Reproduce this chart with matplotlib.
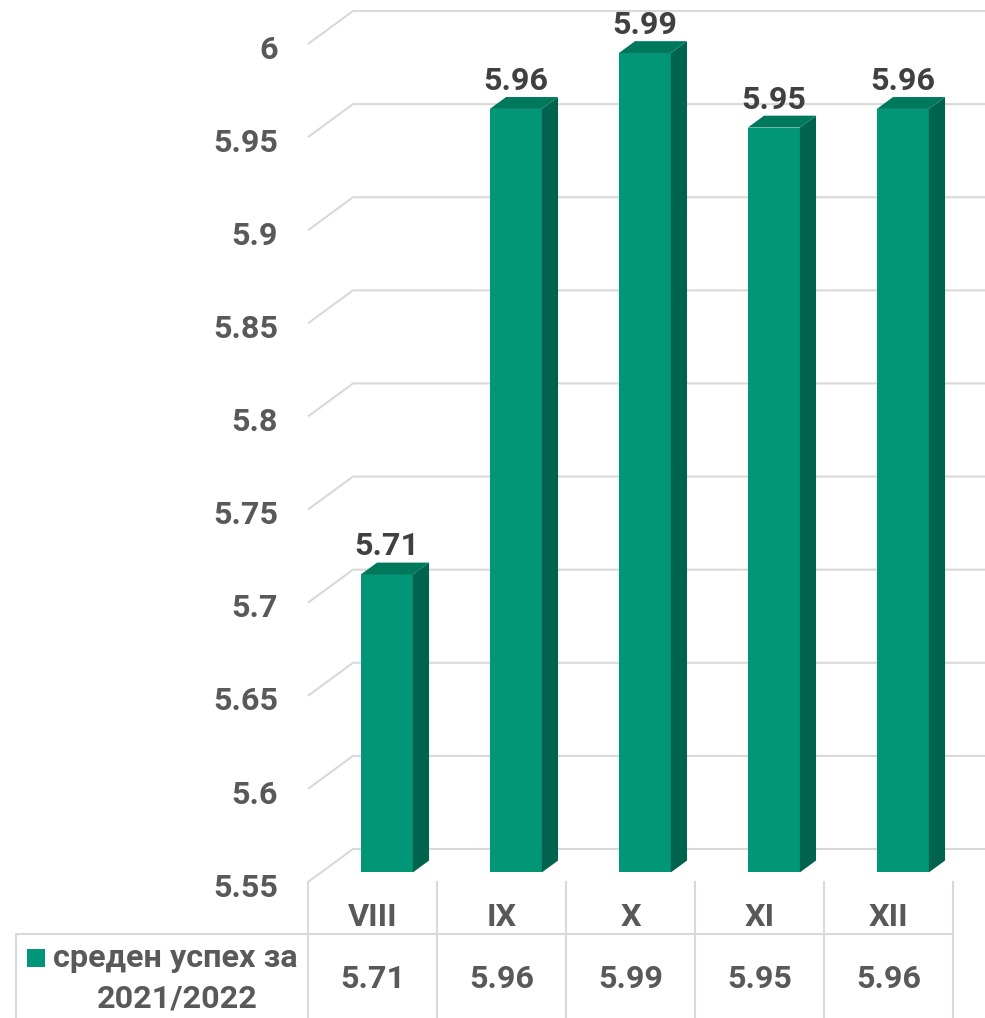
import numpy as np
import matplotlib
matplotlib.use("Agg")
import matplotlib.pyplot as plt
from matplotlib.patches import Polygon, Rectangle

## data
months = ["VIII", "IX", "X", "XI", "XII"]
avg_grade = [5.71, 5.96, 5.99, 5.95, 5.96]
series_name = ["среден успех за", "2021/2022"]
yticks = [5.55, 5.6, 5.65, 5.7, 5.75, 5.8, 5.85, 5.9, 5.95, 6.0]
ymin = 5.55

## colours
c_front = "#009677"
c_top = "#00785C"
c_side = "#00634D"
c_grid = "#D9D9D9"
c_txt = "#595959"
c_lab = "#404040"

plt.rcParams["font.family"] = ["Roboto", "DejaVu Sans"]
plt.rcParams["font.weight"] = "bold"
fs = 23.3

fig = plt.figure(figsize=(9.85, 10.18), dpi=100)
ax = fig.add_axes([0, 0, 1, 1])
ax.set_xlim(-2.8876, 4.748)
ax.set_ylim(5.47697, 6.02363)
ax.axis("off")

# oblique depth of the floor, in data units
DX = 0.3488
DY = 0.01772
f0 = 0.29      # where the bar front sits in depth
fd = 0.36      # bar depth
bw = 0.403     # bar width
pxv = 1862.2   # pixels per value unit (for small offsets)

# gridlines: side wall diagonal + back wall horizontal
for t in yticks:
    ax.plot([-0.5, -0.5 + DX, 4.748], [t, t + DY, t + DY], color=c_grid, lw=1.5,
            zorder=1, solid_capstyle="butt")
    ax.text(-0.7326, t - 14.7 / pxv, "{:g}".format(t), ha="right", va="baseline",
            fontsize=fs, color=c_txt, fontweight="bold")

# bars
x = np.arange(len(months))
left = x - bw / 2 + f0 * DX + 0.01
bottom = ymin + f0 * DY
heights = np.array(avg_grade) - ymin
ax.bar(left, heights, width=bw, bottom=bottom, align="edge", color=c_front,
       edgecolor="none", zorder=3)
for xl, v in zip(left, avg_grade):
    top = v + f0 * DY
    xr = xl + bw
    dx, dy = fd * DX, fd * DY
    side = Polygon([[xr, bottom], [xr + dx, bottom + dy], [xr + dx, top + dy], [xr, top]],
                   closed=True, facecolor=c_side, edgecolor="none", zorder=3)
    lid = Polygon([[xl, top], [xr, top], [xr + dx, top + dy], [xl + dx, top + dy]],
                  closed=True, facecolor=c_top, edgecolor="none", zorder=3)
    ax.add_patch(side)
    ax.add_patch(lid)
    ax.text(xl + bw / 2, top + 19 / pxv, "{:.2f}".format(v), ha="center", va="baseline",
            fontsize=fs, color=c_lab, fontweight="bold", zorder=4)

# data table
y_row = 5.55 - 52 / pxv
y_bot = 5.47697
for k in range(len(months) + 1):
    ax.plot([-0.5 + k, -0.5 + k], [ymin, y_bot], color=c_grid, lw=1.5, zorder=1)
ax.plot([-2.7636, len(months) - 0.5], [y_row, y_row], color=c_grid, lw=1.5, zorder=1)
ax.plot([-2.7636, -2.7636], [y_row, y_bot], color=c_grid, lw=1.5, zorder=1)

for i, (m, v) in enumerate(zip(months, avg_grade)):
    ax.text(i, 5.55 - 44 / pxv, m, ha="center", va="baseline", fontsize=fs,
            color=c_txt, fontweight="bold")
    ax.text(i, 5.55 - 106 / pxv, "{:.2f}".format(v), ha="center", va="baseline",
            fontsize=fs, color=c_txt, fontweight="bold")

# legend key in the table
ax.add_patch(Rectangle((-2.678, 5.5044), 0.139, 18 / pxv, facecolor=c_front,
                       edgecolor="none"))
ax.text(-2.4767, 5.55 - 85 / pxv, series_name[0], ha="left", va="baseline",
        fontsize=fs, color=c_txt, fontweight="bold")
ax.text(-1.5116, 5.55 - 125 / pxv, series_name[1], ha="center", va="baseline",
        fontsize=fs, color=c_txt, fontweight="bold")

fig.savefig("out.png", dpi=100)
